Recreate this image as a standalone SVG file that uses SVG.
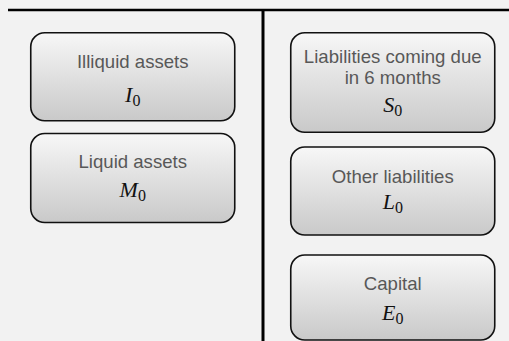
<svg xmlns="http://www.w3.org/2000/svg" width="509" height="341" viewBox="0 0 509 341">
  <defs>
    <linearGradient id="boxGrad" x1="0" y1="0" x2="0" y2="1">
      <stop offset="0" stop-color="#f7f7f7"/>
      <stop offset="1" stop-color="#c9c9c9"/>
    </linearGradient>
    <style>
      .box { fill: url(#boxGrad); stroke: #111; stroke-width: 1.6; }
      .lbl { font-family: "Liberation Sans", Arial, sans-serif; font-size: 18.6px; fill: #585858; text-anchor: middle; }
      .math { font-family: "Liberation Serif", "Times New Roman", serif; font-size: 22px; font-style: italic; fill: #111; text-anchor: middle; }
      .sub { font-style: normal; font-size: 16px; }
      .rule { stroke: #000; fill: none; }
    </style>
  </defs>
  <rect x="0" y="0" width="509" height="341" fill="#f2f2f2"/>
  <g id="connectors">
    <line class="rule" x1="8" y1="10" x2="509" y2="10" stroke-width="2.5"/>
    <line class="rule" x1="263" y1="10" x2="263" y2="341" stroke-width="3"/>
  </g>
  <g id="illiquid">
    <rect class="box" x="30.75" y="32.75" width="204" height="88" rx="14"/>
    <text class="lbl" x="132.75" y="68">Illiquid assets</text>
    <text class="math" x="132.75" y="102">I<tspan class="sub" dy="4">0</tspan></text>
  </g>
  <g id="liquid">
    <rect class="box" x="30.75" y="133.5" width="204" height="89" rx="14"/>
    <text class="lbl" x="132.75" y="168">Liquid assets</text>
    <text class="math" x="132.75" y="197">M<tspan class="sub" dy="4">0</tspan></text>
  </g>
  <g id="short-liabilities">
    <rect class="box" x="290.75" y="32.75" width="204" height="99.5" rx="14"/>
    <text class="lbl" x="392.75" y="63">Liabilities coming due</text>
    <text class="lbl" x="392.75" y="84">in 6 months</text>
    <text class="math" x="392.75" y="112">S<tspan class="sub" dy="4">0</tspan></text>
  </g>
  <g id="other-liabilities">
    <rect class="box" x="290.75" y="147" width="204" height="88" rx="14"/>
    <text class="lbl" x="392.75" y="183">Other liabilities</text>
    <text class="math" x="392.75" y="209">L<tspan class="sub" dy="4">0</tspan></text>
  </g>
  <g id="capital">
    <rect class="box" x="290.75" y="255" width="204" height="85" rx="14"/>
    <text class="lbl" x="392.75" y="290">Capital</text>
    <text class="math" x="392.75" y="320">E<tspan class="sub" dy="4">0</tspan></text>
  </g>
</svg>
